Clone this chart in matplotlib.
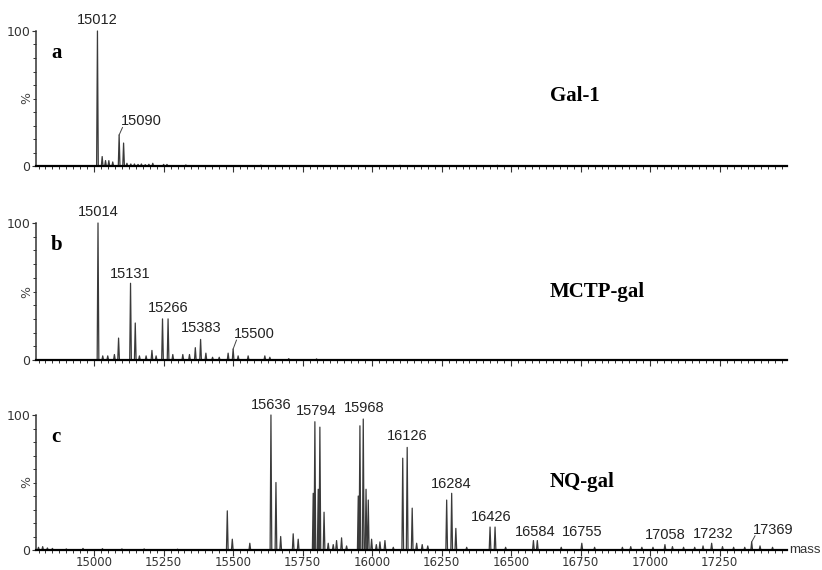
import matplotlib
matplotlib.use("Agg")
import matplotlib.pyplot as plt
from matplotlib.ticker import MultipleLocator, FixedLocator

# panel a: Gal-1
a_mass = [15012, 15029, 15041, 15053, 15067, 15090, 15106, 15118, 15132, 15145,
          15158, 15170, 15184, 15197, 15211, 15250, 15262, 15330, 15600, 16100, 16450]
a_int = [100, 7, 4, 4, 3, 23, 17, 2, 1.5, 1.5, 1.2, 1.5, 1, 1.3, 2, 1.2, 1.2, 0.8, 0.6, 0.5, 0.5]

# panel b: MCTP-gal
b_mass = [15014, 15031, 15049, 15073, 15088, 15131, 15148, 15163, 15187, 15208,
          15223, 15246, 15266, 15283, 15319, 15343, 15364, 15383, 15402, 15426,
          15450, 15482, 15500, 15518, 15554, 15614, 15632, 15700, 15800]
b_int = [100, 3, 3, 4, 16, 56, 27, 3, 3, 7, 3, 30, 30, 4, 4, 4, 9, 15, 5, 2, 2,
         5, 8, 3, 3, 3, 2, 1, 0.8]

# panel c: NQ-gal
c_mass = [14800, 14815, 14832, 14850, 14900, 14960, 15030, 15100, 15180, 15300,
          15479, 15497, 15560, 15636, 15654, 15671, 15716, 15734, 15788, 15794,
          15806, 15812, 15827, 15842, 15860, 15872, 15890, 15908, 15950, 15956,
          15968, 15978, 15986, 15998, 16015, 16028, 16046, 16076, 16110, 16126,
          16144, 16160, 16180, 16200, 16268, 16286, 16301, 16340, 16424, 16442,
          16480, 16580, 16594, 16680, 16754, 16800, 16900, 16930, 16970, 17010,
          17053, 17080, 17120, 17160, 17190, 17221, 17260, 17300, 17340, 17365,
          17395, 17440]
c_int = [2, 2.5, 1.5, 1.2, 0.8, 1.2, 1, 0.8, 0.8, 0.6,
         29, 8, 5, 100, 50, 10, 12, 8, 42, 95,
         45, 91, 28, 5, 4, 7, 9, 3, 40, 92,
         97, 45, 37, 8, 4, 6, 7, 2, 68, 76,
         31, 5, 4, 3, 37, 42, 16, 2, 17, 17,
         2, 7, 7, 2, 5, 2, 2, 2.5, 2, 2,
         4, 2.5, 2, 2, 3, 5, 2.5, 2, 2, 6,
         3, 2]

# peak labels: text, label x (mass), label y (%), leader target (mass, %) or None
a_labels = [("15012", 15012, 103, None), ("15090", 15170, 28, (15090, 23))]
b_labels = [("15014", 15014, 103, None), ("15131", 15130, 58, None),
            ("15266", 15266, 33, None), ("15383", 15384, 18, None),
            ("15500", 15576, 14, (15500, 8))]
c_labels = [("15636", 15636, 102, None), ("15794", 15800, 98, None),
            ("15968", 15970, 100, None), ("16126", 16126, 79, None),
            ("16284", 16285, 44, None), ("16426", 16427, 19, None),
            ("16584", 16586, 8, None), ("16755", 16755, 8, None),
            ("17058", 17053, 6, None), ("17232", 17227, 7, None),
            ("17369", 17442, 10, (17365, 6))]

names = ["Gal-1", "MCTP-gal", "NQ-gal"]
letters = ["a", "b", "c"]
x_ticks = [15000, 15250, 15500, 15750, 16000, 16250, 16500, 16750, 17000, 17250]


def profile(mass, inten, w=3.0):
    xs, ys = [14791], [0]
    for m, h in sorted(zip(mass, inten)):
        xs += [m - w, m, m + w]
        ys += [0, h, 0]
    xs.append(17492)
    ys.append(0)
    return xs, ys


fig = plt.figure(figsize=(8.22, 5.70), dpi=100)
boxes = [(36 / 822, 1 - 166 / 570, 751 / 822, 135 / 570),
         (36 / 822, 1 - 360 / 570, 751 / 822, 137 / 570),
         (36 / 822, 1 - 550 / 570, 751 / 822, 135 / 570)]
data = [(a_mass, a_int, a_labels), (b_mass, b_int, b_labels), (c_mass, c_int, c_labels)]
name_y = [0.52, 0.50, 0.50]

for i, (box, (ms, its, labs)) in enumerate(zip(boxes, data)):
    ax = fig.add_axes(box)
    xs, ys = profile(ms, its)
    ax.plot(xs, ys, color="#3a3a3a", lw=0.9, clip_on=False)
    ax.set_xlim(14791, 17492)
    ax.set_ylim(0, 100)
    for s in ["top", "right"]:
        ax.spines[s].set_visible(False)
    ax.spines["bottom"].set_linewidth(1.6)
    ax.spines["left"].set_linewidth(1.1)
    ax.spines["left"].set_color("#333333")
    ax.xaxis.set_major_locator(FixedLocator(x_ticks))
    ax.xaxis.set_minor_locator(MultipleLocator(25))
    ax.yaxis.set_major_locator(FixedLocator([0, 100]))
    ax.yaxis.set_minor_locator(MultipleLocator(10))
    ax.tick_params(axis="x", which="major", length=4, width=0.8, pad=0.5,
                   labelsize=8.5, colors="#333333")
    ax.tick_params(axis="x", which="minor", length=2.5, width=0.7, colors="#333333")
    ax.tick_params(axis="y", which="major", length=3, width=0.8, pad=1,
                   labelsize=9, colors="#333333")
    ax.tick_params(axis="y", which="minor", length=2, width=0.7, colors="#333333")
    if i < 2:
        ax.tick_params(axis="x", which="both", labelbottom=False)
    ax.text(-0.012, 0.5, "%", transform=ax.transAxes, rotation=90, fontsize=9,
            color="#444444", ha="center", va="center")

    for txt, lx, ly, tgt in labs:
        ax.text(lx, ly, txt, ha="center", va="bottom", fontsize=10.5,
                family="Liberation Sans", color="#222222", clip_on=False)
        if tgt is not None:
            ax.plot([tgt[0], tgt[0] + 12], [tgt[1], ly + 0.5], color="#444444",
                    lw=0.7, clip_on=False)

    ax.text(0.027, 0.84, letters[i], transform=ax.transAxes, fontsize=15,
            family="Liberation Serif", weight="bold", va="center", ha="center")
    ax.text(0.684, name_y[i], names[i], transform=ax.transAxes, fontsize=15,
            family="Liberation Serif", weight="bold", va="center", ha="left")

    if i == 2:
        ax.text(1.003, 0, "mass", transform=ax.transAxes, fontsize=9.5,
                family="Liberation Sans", color="#333333", va="center", ha="left")

fig.savefig("out.png", dpi=100)
